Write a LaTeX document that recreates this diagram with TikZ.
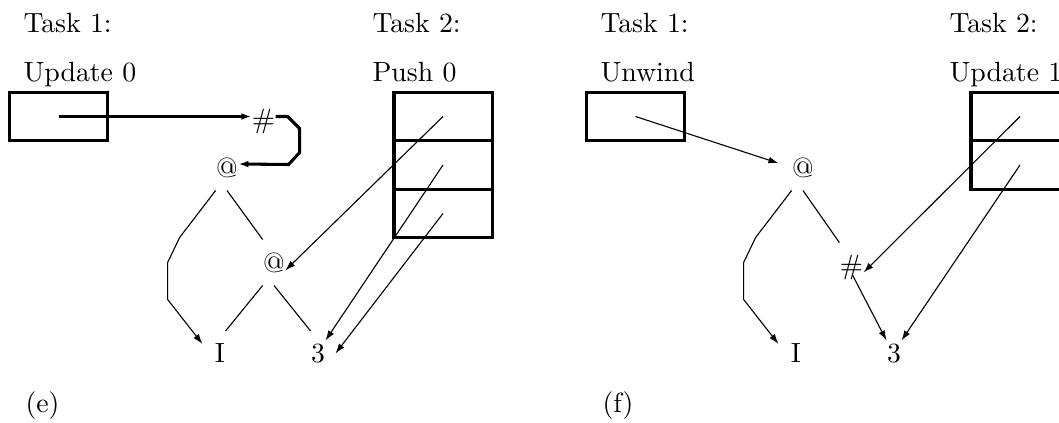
\documentclass[tikz,border=0pt]{standalone}
\usetikzlibrary{arrows.meta}

\tikzset{
  lbl/.style={anchor=base west, inner sep=0pt},
  tree/.style={inner xsep=0pt, inner ysep=4.5pt},
  cell/.style={draw, line width=1.1pt, minimum width=35.3pt, minimum height=17.5pt, inner sep=0pt},
  heavy/.style={line width=1.1pt}
}

\begin{document}
\begin{tikzpicture}[x=0.36pt, y=-0.36pt, >={Latex[length=3.6pt,width=2.4pt]}]
%\draw [help lines] (0,0) grid [step=50] (1059,423);
\clip (0,0) rectangle (1059,423);

% (e)
\node [lbl] (t1e) at (23,33) {Task 1:};
\node [lbl] (upde) at (23,82) {Update 0};
\node [lbl] (t2e) at (372,33) {Task 2:};
\node [lbl] (pushe) at (372,82) {Push 0};
\node [lbl] (cape) at (25,413) {(e)};

\node [cell] (boxe) at (58.5,116.5) {};
\node [cell] (s1e) at (443,116.5) {};
\node [cell] (s2e) at (443,165) {};
\node [cell] (s3e) at (443,213.5) {};

\node [tree] (hashe) at (263.5,122) {\#};
\node [tree] (at1e) at (227,167.5) {@};
\node [tree] (at2e) at (274,262.5) {@};
\node [tree] (Ie) at (220,353.5) {I};
\node [tree] (threee) at (318,353.5) {3};

\draw [heavy, ->] (boxe.center) -- (boxe.center -| hashe.west);
\draw [heavy, ->] (boxe.center -| hashe.east) -- ++(12,0) -- ++(12,12) -- ++(0,24) -- ++(-11,12) -- (at1e.east |- 0,164);

\draw [thin] (at1e.south) -- (at2e.north west);
\draw [thin, ->] (at1e.south west) -- ++(-36,47) -- ++(-12,25) -- ++(0,37) -- ([shift={(-12,13)}]Ie.north west);
\draw [thin] (at2e.south west) -- (Ie.north east);
\draw [thin] (at2e.south) -- (threee.north west);

\draw [thin, ->] (s1e.center) -- (at2e.-35);
\draw [thin, ->] (s2e.center) -- (threee.60);
\draw [thin, ->] (s3e.center) -- ([shift={(10,0)}]threee.east);


% (f)
\node [lbl] (t1f) at (600,33) {Task 1:};
\node [lbl] (unwf) at (600,82) {Unwind};
\node [lbl] (t2f) at (949,33) {Task 2:};
\node [lbl] (updf) at (949,82) {Update 1};
\node [lbl] (capf) at (602,413) {(f)};

\node [cell] (boxf) at (635.5,116.5) {};
\node [cell] (s1f) at (1020,116.5) {};
\node [cell] (s2f) at (1020,165) {};

\node [tree] (at1f) at (803,167.5) {@};
\node [tree] (hashf) at (851.5,268) {\#};
\node [tree] (If) at (796,353.5) {I};
\node [tree] (threef) at (894,353.5) {3};

\draw [thin, ->, shorten >=5pt] (boxf.center) -- (at1f.west);

\draw [thin] (at1f.south) -- (hashf.north west);
\draw [thin, ->] (at1f.south west) -- ++(-36,47) -- ++(-12,25) -- ++(0,37) -- ([shift={(-12,13)}]If.north west);
\draw [thin, ->] ([shift={(1,7)}]hashf.center) -- (threef.120);

\draw [thin, ->] (s1f.center) -- (hashf.-20);
\draw [thin, ->] (s2f.center) -- (threef.60);

\end{tikzpicture}
\end{document}
